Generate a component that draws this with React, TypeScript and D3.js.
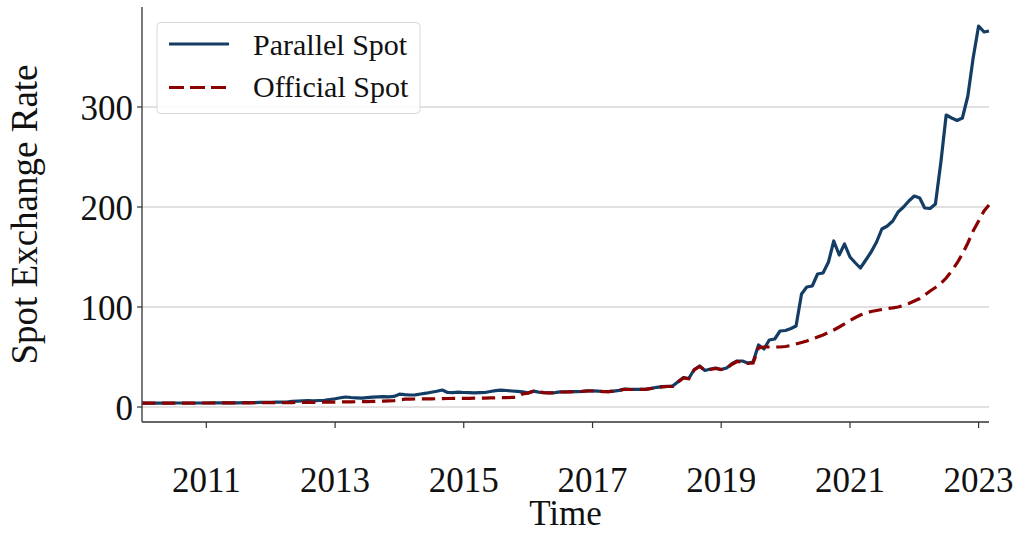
import React from "react";
import * as d3 from "d3";

// Monthly observations, Jan 2010 .. Mar 2023
const START_YEAR = 2010;
const parallelSpot: number[] = [
  // 2010
  3.9, 3.92, 3.93, 3.93, 3.95, 3.97, 3.98, 3.98, 3.99, 3.99, 4.0, 4.02,
  // 2011
  4.02, 4.05, 4.08, 4.12, 4.15, 4.18, 4.22, 4.28, 4.3, 4.4, 4.6, 4.75,
  // 2012
  4.75, 4.8, 4.9, 5.0, 5.6, 5.9, 6.2, 6.3, 6.2, 6.5, 6.7, 7.5,
  // 2013
  8.2, 9.2, 10.0, 9.5, 9.2, 8.8, 9.3, 9.8, 10.2, 10.3, 10.2, 10.6,
  // 2014
  12.8, 12.3, 12.0, 12.2, 13.0, 13.8, 14.8, 15.8, 17.0, 14.5, 14.4, 14.8,
  // 2015
  14.5, 14.3, 14.2, 14.3, 14.5, 15.5, 16.3, 16.8, 16.5, 16.0, 15.6, 15.2,
  // 2016
  14.2, 15.8, 14.9, 14.4, 14.2, 14.3, 15.1, 15.1, 15.3, 15.4, 15.6, 16.1,
  // 2017
  16.1, 15.8, 15.5, 15.4, 15.9, 16.6, 17.9, 17.7, 17.6, 17.7, 17.8, 18.7,
  // 2018
  19.7, 20.4, 20.7, 20.9, 25.3, 29.5, 28.5, 37.5, 41.0, 36.5, 38.0, 39.0,
  // 2019
  37.5, 39.0, 43.0, 46.0, 46.0, 44.0, 45.0, 62.0, 58.0, 67.0, 68.0, 76.0,
  // 2020
  76.5, 78.5, 81.0, 113.0, 120.0, 121.0, 133.0, 134.0, 145.0, 166.0, 152.0, 163.0,
  // 2021
  150.0, 144.0, 139.0, 147.0, 155.0, 165.0, 178.0, 181.0, 186.0, 195.0, 200.0, 206.0,
  // 2022
  211.0, 209.0, 199.0, 198.5, 203.0, 245.0, 292.0, 289.0, 286.5, 289.0, 311.0, 349.0,
  // 2023
  381.0, 375.0, 376.0,
];

const officialSpot: number[] = [
  // 2010
  3.8, 3.85, 3.87, 3.87, 3.89, 3.93, 3.94, 3.94, 3.96, 3.96, 3.97, 3.98,
  // 2011
  3.98, 4.02, 4.05, 4.07, 4.09, 4.11, 4.14, 4.19, 4.21, 4.23, 4.28, 4.3,
  // 2012
  4.33, 4.36, 4.38, 4.42, 4.47, 4.52, 4.58, 4.63, 4.7, 4.76, 4.82, 4.9,
  // 2013
  4.96, 5.04, 5.12, 5.18, 5.27, 5.33, 5.45, 5.64, 5.79, 5.91, 6.14, 6.32,
  // 2014
  7.1, 7.85, 7.95, 8.0, 8.05, 8.15, 8.15, 8.3, 8.4, 8.48, 8.53, 8.55,
  // 2015
  8.6, 8.7, 8.8, 8.9, 8.95, 9.08, 9.2, 9.35, 9.42, 9.53, 9.65, 13.0,
  // 2016
  13.9, 15.8, 14.7, 14.3, 14.1, 14.2, 15.0, 15.0, 15.2, 15.3, 15.5, 16.0,
  // 2017
  16.0, 15.7, 15.4, 15.3, 15.8, 16.5, 17.7, 17.5, 17.5, 17.6, 17.6, 18.5,
  // 2018
  19.5, 20.2, 20.5, 20.7, 25.0, 29.0, 28.2, 37.0, 40.5, 36.5, 37.5, 38.5,
  // 2019
  37.5, 38.5, 42.5, 45.5, 45.0, 43.5, 44.0, 59.0, 60.0, 60.0, 60.0, 60.0,
  // 2020
  60.5, 61.5, 63.0, 64.5, 66.0, 68.0, 70.0, 72.0, 74.5, 77.0, 80.0, 83.0,
  // 2021
  86.5, 89.5, 92.0, 94.0, 95.5, 96.5, 97.5, 98.5, 99.2, 100.0, 101.5, 103.5,
  // 2022
  106.0, 108.5, 112.0, 116.0, 119.5, 123.5, 129.0, 136.0, 144.0, 153.0, 164.0, 176.0,
  // 2023
  186.0, 196.0, 202.0,
];

const xTickYears = [2011, 2013, 2015, 2017, 2019, 2021, 2023];
const yTicks = [0, 100, 200, 300];
const seriesNames = ["Parallel Spot", "Official Spot"];

const W = 1016;
const H = 533;
const FONT = "'Liberation Serif', 'DejaVu Serif', serif";
const BLUE = "#143d65";
const RED = "#8b0000";

export default function App() {
  const dates = parallelSpot.map((_, i) => new Date(START_YEAR, i, 1));
  const x = d3
    .scaleTime()
    .domain([dates[0], dates[dates.length - 1]])
    .range([142, 989]);
  const y = d3.scaleLinear().domain([-15, 400]).range([422, 7]);

  const line = d3
    .line<number>()
    .x((_, i) => x(dates[i]))
    .y((d) => y(d));

  const [x0, x1] = x.range();
  const [yb, yt] = y.range();

  return (
    <svg
      width={W}
      height={H}
      style={{ position: "absolute", left: 0, top: 0, background: "#fff" }}
      fontFamily={FONT}
    >
      {/* grid */}
      {yTicks.map((t) => (
        <line key={"g" + t} x1={x0} x2={x1} y1={y(t)} y2={y(t)} stroke="#c4c4c4" strokeWidth={1.1} />
      ))}
      {/* lines */}
      <path d={line(parallelSpot) || ""} fill="none" stroke={BLUE} strokeWidth={3.2} strokeLinejoin="round" />
      <path
        d={line(officialSpot) || ""}
        fill="none"
        stroke={RED}
        strokeWidth={3.2}
        strokeDasharray="13.3,6.7"
      />
      {/* spines */}
      <line x1={x0} x2={x0} y1={yt} y2={yb} stroke="#333" strokeWidth={1.3} />
      <line x1={x0} x2={x1} y1={yb} y2={yb} stroke="#333" strokeWidth={1.3} />
      {/* y ticks */}
      {yTicks.map((t) => (
        <g key={"y" + t}>
          <line x1={x0 - 5} x2={x0} y1={y(t)} y2={y(t)} stroke="#333" strokeWidth={1.2} />
          <text x={133} y={y(t) + 13} textAnchor="end" fontSize={35} fill="#111">
            {t}
          </text>
        </g>
      ))}
      {/* x ticks */}
      {xTickYears.map((yr) => {
        const px = x(new Date(yr, 0, 1));
        return (
          <g key={"x" + yr}>
            <line x1={px} x2={px} y1={yb} y2={yb + 6} stroke="#333" strokeWidth={1.2} />
            <text x={px} y={492} textAnchor="middle" fontSize={35} fill="#111">
              {yr}
            </text>
          </g>
        );
      })}
      {/* axis labels */}
      <text x={(x0 + x1) / 2} y={525} textAnchor="middle" fontSize={35} fill="#111">
        Time
      </text>
      <text
        transform={`translate(37, ${(yt + yb) / 2}) rotate(-90)`}
        textAnchor="middle"
        fontSize={37}
        fill="#111"
      >
        Spot Exchange Rate
      </text>
      {/* legend */}
      <rect x={157} y={22.5} width={263} height={91} rx={4} fill="#fff" fillOpacity={0.85} stroke="#d9d9d9" strokeWidth={1} />
      <line x1={169} x2={229} y1={44} y2={44} stroke={BLUE} strokeWidth={3.2} />
      <line x1={169} x2={229} y1={87.5} y2={87.5} stroke={RED} strokeWidth={3.2} strokeDasharray="15,6" />
      <text x={253} y={55} fontSize={30} fill="#111">
        {seriesNames[0]}
      </text>
      <text x={253} y={97} fontSize={30} fill="#111">
        {seriesNames[1]}
      </text>
    </svg>
  );
}
